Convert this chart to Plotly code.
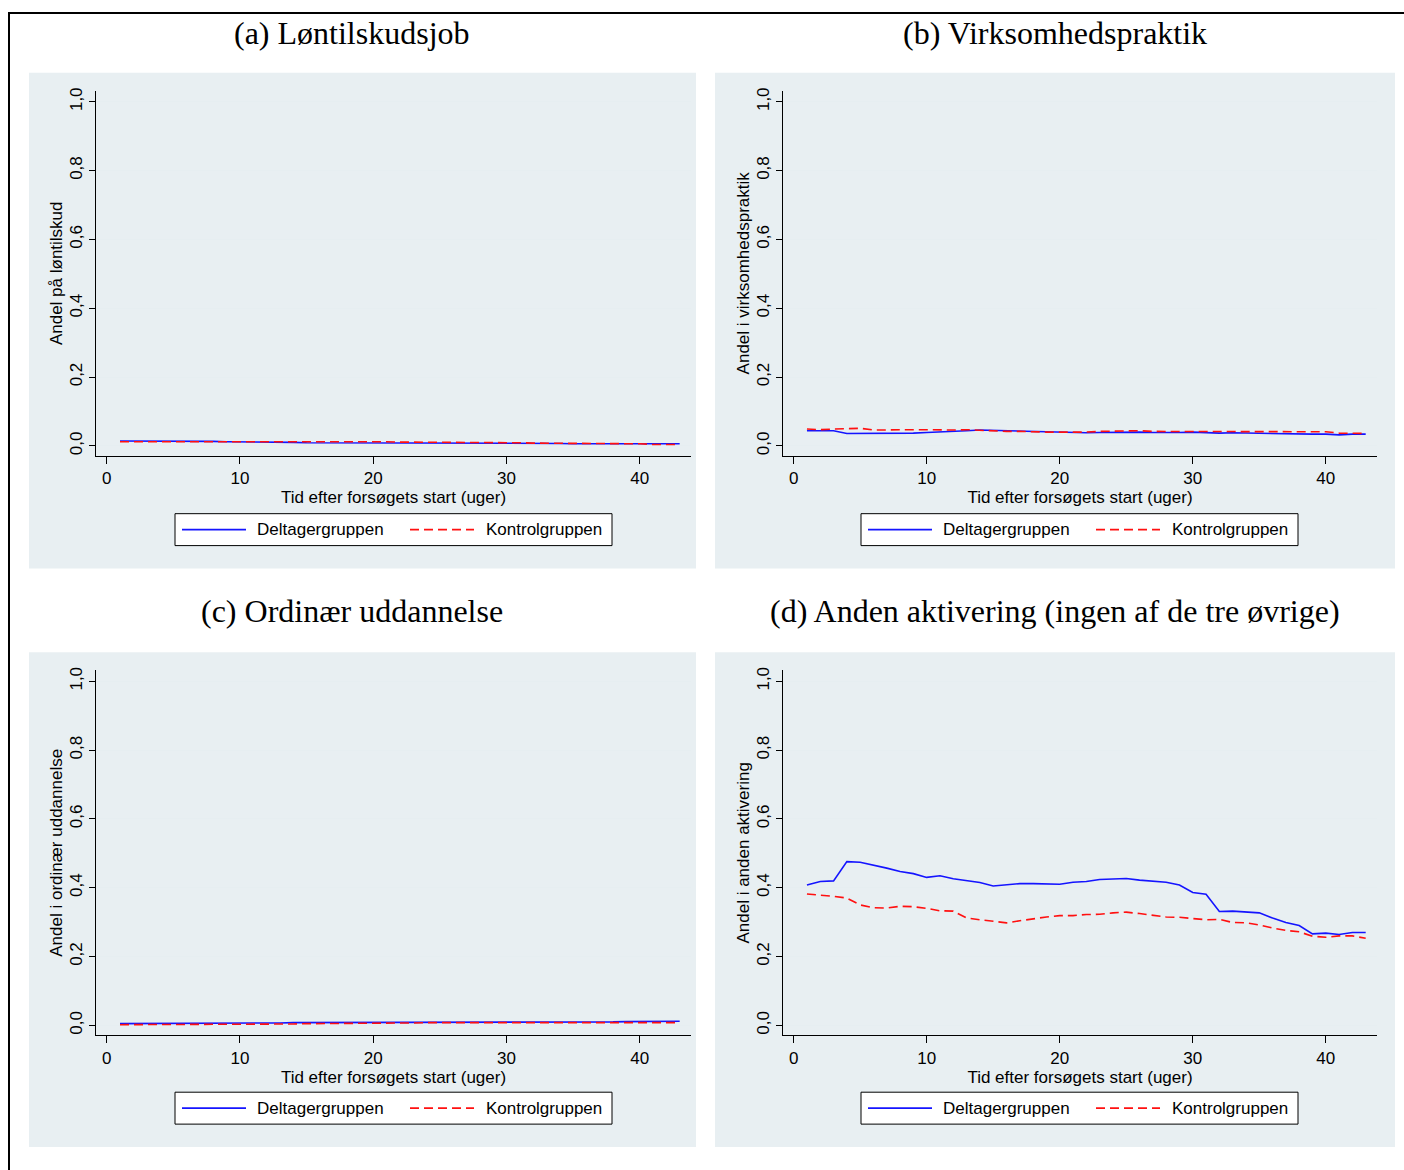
import plotly.graph_objects as go

W, H = 1404, 1170

weeks = [1, 2, 3, 4, 5, 6, 7, 8, 9, 10, 11, 12, 13, 14, 15, 16, 17, 18, 19, 20, 21, 22,
         23, 24, 25, 26, 27, 28, 29, 30, 31, 32, 33, 34, 35, 36, 37, 38, 39, 40, 41, 42, 43]

# (a) Løntilskudsjob
a_delt = [0.014, 0.014, 0.014, 0.014, 0.015, 0.014, 0.013, 0.013, 0.012, 0.012, 0.012, 0.011,
          0.011, 0.010, 0.009, 0.009, 0.008, 0.008, 0.007, 0.007, 0.007, 0.007, 0.007, 0.007,
          0.007, 0.007, 0.007, 0.008, 0.008, 0.008, 0.007, 0.007, 0.007, 0.007, 0.006, 0.006,
          0.006, 0.006, 0.006, 0.005, 0.005, 0.006, 0.006]
a_kont = [0.012, 0.012, 0.013, 0.013, 0.014, 0.014, 0.013, 0.013, 0.013, 0.013, 0.013, 0.013,
          0.013, 0.014, 0.014, 0.014, 0.013, 0.014, 0.012, 0.012, 0.012, 0.011, 0.011, 0.011,
          0.011, 0.011, 0.010, 0.010, 0.010, 0.010, 0.009, 0.008, 0.008, 0.008, 0.007, 0.007,
          0.007, 0.006, 0.006, 0.006, 0.004, 0.004, 0.004]

# (b) Virksomhedspraktik
b_delt = [0.044, 0.044, 0.044, 0.036, 0.036, 0.036, 0.038, 0.037, 0.037, 0.039, 0.040, 0.041,
          0.044, 0.046, 0.045, 0.043, 0.042, 0.041, 0.040, 0.040, 0.038, 0.038, 0.039, 0.040,
          0.041, 0.040, 0.039, 0.038, 0.039, 0.040, 0.038, 0.037, 0.038, 0.037, 0.036, 0.036,
          0.036, 0.035, 0.034, 0.034, 0.032, 0.034, 0.034]
b_kont = [0.049, 0.047, 0.049, 0.051, 0.051, 0.046, 0.047, 0.048, 0.047, 0.047, 0.046, 0.046,
          0.047, 0.045, 0.043, 0.042, 0.042, 0.040, 0.040, 0.040, 0.039, 0.040, 0.042, 0.043,
          0.045, 0.044, 0.042, 0.042, 0.042, 0.041, 0.041, 0.041, 0.041, 0.040, 0.040, 0.040,
          0.041, 0.042, 0.042, 0.041, 0.037, 0.036, 0.036]

# (c) Ordinær uddannelse
c_delt = [0.005, 0.005, 0.005, 0.005, 0.005, 0.006, 0.006, 0.006, 0.006, 0.006, 0.007, 0.007,
          0.007, 0.008, 0.008, 0.008, 0.008, 0.009, 0.009, 0.009, 0.009, 0.009, 0.009, 0.009,
          0.009, 0.009, 0.009, 0.009, 0.009, 0.009, 0.009, 0.010, 0.010, 0.010, 0.010, 0.010,
          0.010, 0.010, 0.011, 0.011, 0.012, 0.012, 0.012]
c_kont = [0.002, 0.002, 0.002, 0.002, 0.002, 0.002, 0.003, 0.003, 0.003, 0.003, 0.003, 0.003,
          0.004, 0.004, 0.005, 0.005, 0.006, 0.006, 0.006, 0.007, 0.007, 0.007, 0.007, 0.008,
          0.008, 0.008, 0.008, 0.007, 0.007, 0.007, 0.007, 0.007, 0.007, 0.007, 0.007, 0.007,
          0.007, 0.007, 0.008, 0.008, 0.008, 0.008, 0.008]

# (d) Anden aktivering
d_delt = [0.408, 0.418, 0.420, 0.476, 0.474, 0.466, 0.457, 0.447, 0.441, 0.430, 0.435, 0.426,
          0.420, 0.415, 0.405, 0.409, 0.412, 0.412, 0.411, 0.410, 0.416, 0.418, 0.424, 0.426,
          0.427, 0.422, 0.419, 0.416, 0.408, 0.386, 0.381, 0.331, 0.332, 0.330, 0.327, 0.312,
          0.299, 0.290, 0.266, 0.268, 0.264, 0.270, 0.270]
d_kont = [0.382, 0.379, 0.375, 0.370, 0.350, 0.342, 0.341, 0.346, 0.345, 0.340, 0.333, 0.332,
          0.312, 0.307, 0.302, 0.298, 0.304, 0.310, 0.315, 0.319, 0.319, 0.322, 0.323, 0.327,
          0.329, 0.325, 0.320, 0.315, 0.314, 0.310, 0.307, 0.308, 0.299, 0.298, 0.292, 0.283,
          0.276, 0.272, 0.259, 0.256, 0.260, 0.260, 0.253]

panel_titles = ["(a) Løntilskudsjob", "(b) Virksomhedspraktik",
                "(c) Ordinær uddannelse", "(d) Anden aktivering (ingen af de tre øvrige)"]
y_titles = ["Andel på løntilskud", "Andel i virksomhedspraktik",
            "Andel i ordinær uddannelse", "Andel i anden aktivering"]
x_title = "Tid efter forsøgets start (uger)"
series_names = ["Deltagergruppen", "Kontrolgruppen"]
x_tickvals = [0, 10, 20, 30, 40]
y_tickvals = [0.0, 0.2, 0.4, 0.6, 0.8, 1.0]
y_ticktext = ["0,0", "0,2", "0,4", "0,6", "0,8", "1,0"]

data = [(a_delt, a_kont), (b_delt, b_kont), (c_delt, c_kont), (d_delt, d_kont)]

# pixel geometry (left, right, top, bottom) of the plot areas
plot_px = [(96, 691, 90, 456), (783, 1377, 90, 456),
           (96, 691, 671, 1037), (783, 1377, 671, 1037)]
bg_px = [(29, 696, 72, 569), (715, 1395, 72, 569),
         (29, 696, 653, 1149), (715, 1395, 653, 1149)]
title_px = [(352, 32), (1055, 32), (352, 612), (1055, 612)]
# legend box (left, right, top, bottom)
legend_px = [(175, 612, 514, 546), (861, 1298, 514, 546),
             (175, 612, 1094, 1126), (861, 1298, 1094, 1126)]

DY = -2  # small vertical correction for page offset

def px(x):
    return x / W

def py(y):
    return 1 - (y + DY) / H

SANS = "Liberation Sans, Arial, sans-serif"
SERIF = "Liberation Serif, Times New Roman, serif"
BG = "#E8EFF2"
GRID = "#E6EEF1"
BLUE = "#1414FF"
RED = "#FF1010"
DASH = "9px,5px"
FS = 17

fig = go.Figure()
shapes = []
annotations = []
layout = dict(
    width=W, height=H, margin=dict(l=0, r=0, t=0, b=0),
    paper_bgcolor="white", plot_bgcolor="white", showlegend=False,
    font=dict(family=SANS, size=FS, color="black"),
)

for i in range(4):
    n = "" if i == 0 else str(i + 1)
    l, r, t, b = plot_px[i]
    bl, br, bt, bb = bg_px[i]
    shapes.append(dict(type="rect", xref="paper", yref="paper", layer="below",
                       x0=px(bl), x1=px(br), y0=py(bb), y1=py(bt),
                       fillcolor=BG, line=dict(width=0)))
    delt, kont = data[i]
    fig.add_trace(go.Scatter(x=weeks, y=delt, mode="lines", name=series_names[0],
                             line=dict(color=BLUE, width=1.6),
                             xaxis="x" + n, yaxis="y" + n))
    fig.add_trace(go.Scatter(x=weeks, y=kont, mode="lines", name=series_names[1],
                             line=dict(color=RED, width=1.6, dash=DASH),
                             xaxis="x" + n, yaxis="y" + n))
    layout["xaxis" + n] = dict(
        domain=[px(l), px(r)], anchor="y" + n, range=[-0.8, 43.85],
        tickvals=x_tickvals, ticks="outside", ticklen=7, tickcolor="black",
        showline=True, linecolor="black", linewidth=1, showgrid=False, zeroline=False,
        tickfont=dict(family=SANS, size=FS),
        title=dict(text=x_title, standoff=0, font=dict(family=SANS, size=FS)),
    )
    layout["yaxis" + n] = dict(
        domain=[py(b), py(t)], anchor="x" + n, range=[-0.029, 1.032],
        tickvals=y_tickvals, ticktext=y_ticktext, tickangle=-90,
        ticks="outside", ticklen=6, tickcolor="black",
        showline=True, linecolor="black", linewidth=1,
        showgrid=True, gridcolor=GRID, gridwidth=1, zeroline=False,
        tickfont=dict(family=SANS, size=FS),
        title=dict(text=y_titles[i], standoff=0, font=dict(family=SANS, size=FS)),
    )
    # legend box drawn with shapes + text annotations
    ll, lr, lt, lb = legend_px[i]
    ly = (lt + lb) / 2
    shapes.append(dict(type="rect", xref="paper", yref="paper",
                       x0=px(ll), x1=px(lr), y0=py(lb), y1=py(lt),
                       fillcolor="white", line=dict(color="black", width=1)))
    shapes.append(dict(type="line", xref="paper", yref="paper",
                       x0=px(ll + 7), x1=px(ll + 71), y0=py(ly), y1=py(ly),
                       line=dict(color=BLUE, width=1.6)))
    shapes.append(dict(type="line", xref="paper", yref="paper",
                       x0=px(ll + 235), x1=px(ll + 299), y0=py(ly), y1=py(ly),
                       line=dict(color=RED, width=1.6, dash=DASH)))
    annotations.append(dict(text=series_names[0], xref="paper", yref="paper",
                            x=px(ll + 80), y=py(ly), xanchor="left", yanchor="middle",
                            showarrow=False, font=dict(family=SANS, size=FS, color="black")))
    annotations.append(dict(text=series_names[1], xref="paper", yref="paper",
                            x=px(ll + 309), y=py(ly), xanchor="left", yanchor="middle",
                            showarrow=False, font=dict(family=SANS, size=FS, color="black")))
    tx, ty = title_px[i]
    annotations.append(dict(text=panel_titles[i], xref="paper", yref="paper",
                            x=px(tx), y=py(ty), xanchor="center", yanchor="middle",
                            showarrow=False, font=dict(family=SERIF, size=32, color="black")))

# outer frame (left and top border)
shapes.append(dict(type="line", xref="paper", yref="paper", x0=px(9), x1=px(9),
                   y0=0, y1=py(11), line=dict(color="black", width=2)))
shapes.append(dict(type="line", xref="paper", yref="paper", x0=px(8), x1=1,
                   y0=py(12), y1=py(12), line=dict(color="black", width=2)))

layout["shapes"] = shapes
layout["annotations"] = annotations
fig.update_layout(**layout)
fig.write_html("out.html", config={"displayModeBar": False},
               post_script="document.body.style.margin='0';document.body.style.padding='0';"
                           "document.body.style.overflow='hidden';")
